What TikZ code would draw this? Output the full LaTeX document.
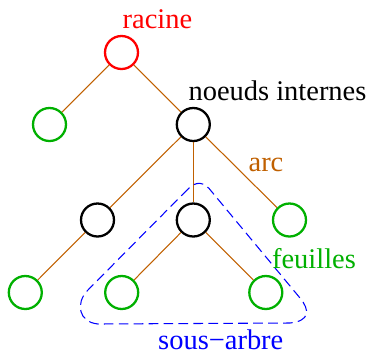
\documentclass[tikz,border=0pt]{standalone}
\usepackage{fontspec}
\setmainfont{Liberation Serif}
\usepackage{tikz}

\definecolor{vertfeuille}{RGB}{0,176,0}
\definecolor{brunarc}{RGB}{192,96,0}

\begin{document}
\begin{tikzpicture}[x=0.02cm,y=-0.02cm,
    noeud/.style={circle,draw,line width=1.3pt,minimum size=0.66cm,inner sep=0pt},
    arete/.style={draw=brunarc,line width=0.6pt},
    etiquette/.style={font=\fontsize{16.2}{19}\selectfont,anchor=base,inner sep=0pt}]
    \useasboundingbox (0,0) rectangle (369,353);
    % les noeuds de l'arbre
    \node [noeud,red] (r) at (121.5,52.5) {};
    \node [noeud,vertfeuille] (g) at (49.5,124.5) {};
    \node [noeud,black] (d) at (193.3,124.5) {};
    \node [noeud,black] (dg) at (97.5,220) {};
    \node [noeud,black] (dm) at (193.3,220) {};
    \node [noeud,vertfeuille] (dd) at (289.5,220) {};
    \node [noeud,vertfeuille] (dgg) at (25.3,292.5) {};
    \node [noeud,vertfeuille] (dmg) at (121.7,292.5) {};
    \node [noeud,vertfeuille] (dmd) at (265.8,292.5) {};
    % les arcs
    \draw [arete] (r) -- (g);
    \draw [arete] (r) -- (d);
    \draw [arete] (d) -- (dg);
    \draw [arete] (d) -- (dm);
    \draw [arete] (d) -- (dd);
    \draw [arete] (dg) -- (dgg);
    \draw [arete] (dm) -- (dmg);
    \draw [arete] (dm) -- (dmd);
    % contour du sous-arbre
    \draw [blue,line width=0.6pt,dash pattern=on 5.5pt off 3pt]
        (188,189) -- (87,291) .. controls (76,303) and (78,322) .. (98,324)
        -- (290,323) .. controls (310,321) and (310,310) .. (300,298)
        -- (212,192) .. controls (204,181) and (196,181) .. (188,189) -- cycle;
    % textes
    \node [etiquette,red] (tr) at (157.5,28.3) {racine};
    \node [etiquette,black] (ti) at (277.5,100) {noeuds internes};
    \node [etiquette,brunarc] (ta) at (266,171.7) {arc};
    \node [etiquette,vertfeuille] (tf) at (314,268.3) {feuilles};
    \node [etiquette,blue] (ts) at (220.8,349.5) {sous−arbre};
\end{tikzpicture}
\end{document}
